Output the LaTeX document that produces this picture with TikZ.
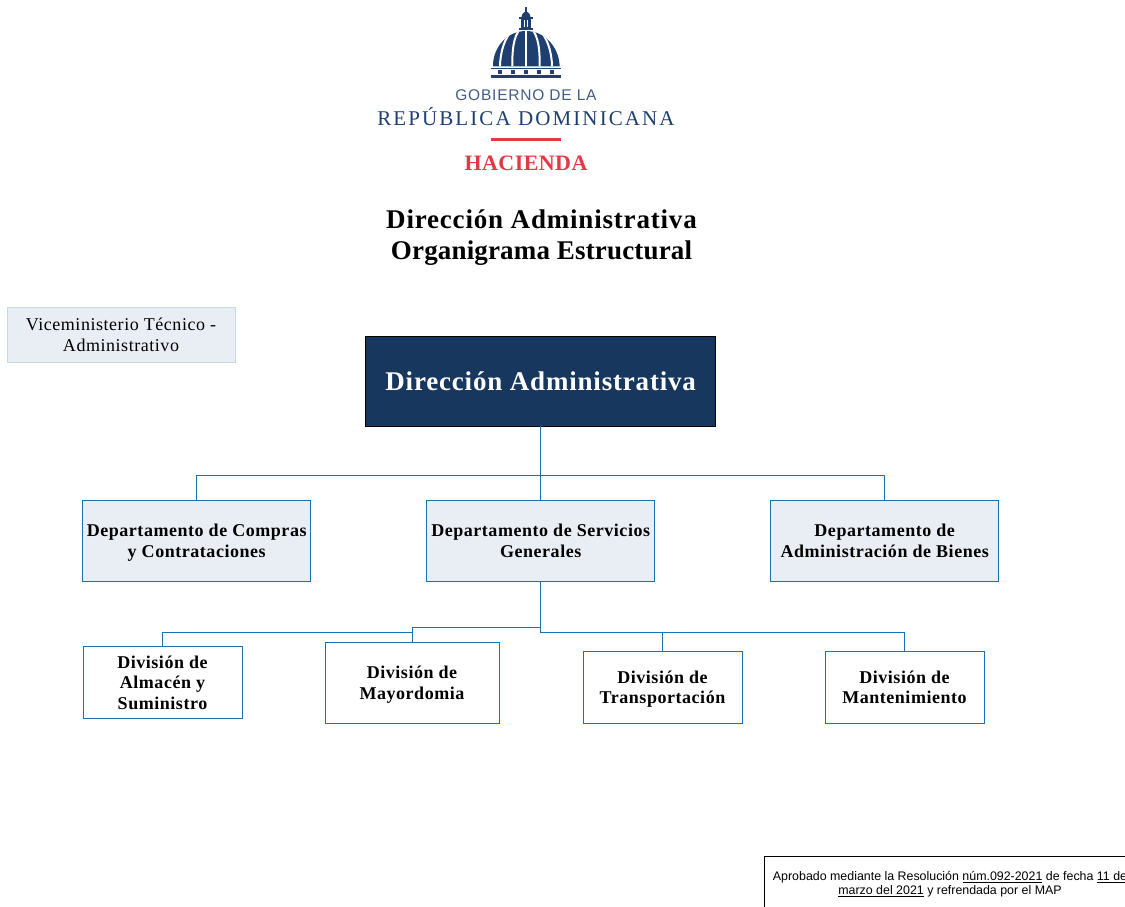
\documentclass[tikz,border=0pt]{standalone}
\usepackage{fontspec}
\setmainfont{Liberation Serif}[LetterSpace=3]
\setsansfont{Liberation Sans}
\newfontfamily\logoserif{Liberation Serif}[LetterSpace=10]
\newfontfamily\logosans{Liberation Sans}[LetterSpace=5]
\newfontfamily\hacfont{Liberation Serif}[LetterSpace=2]
\newfontfamily\tightfont{Liberation Serif}[LetterSpace=0.6]
\definecolor{navy}{HTML}{17375E}
\definecolor{pale}{HTML}{E9EEF5}
\definecolor{lnk}{HTML}{1672B4}
\definecolor{logoblue}{HTML}{1F3F70}
\definecolor{logored}{HTML}{E03A45}
\newcommand\sst{\rule[-.3em]{0pt}{1em}}
\newcommand\ssa{\rule[-.3em]{0pt}{1.33em}}
\tikzset{
  x=1pt,y=-1pt,
  boxbase/.style={inner sep=0pt,outer sep=0pt,align=center,text=black},
  vicebox/.style={boxbase,draw=black!12!lnk!25!white,fill=pale,line width=0.8pt,minimum width=228pt,minimum height=55pt,font=\fontsize{18}{20.5}\selectfont},
  mainbox/.style={boxbase,draw=black,fill=navy,text=white,line width=0.9pt,minimum width=350pt,minimum height=90pt,font=\fontsize{27}{31}\selectfont\bfseries},
  deptbox/.style={boxbase,draw=lnk,fill=pale,line width=0.9pt,minimum width=228pt,minimum height=81pt,font=\fontsize{18}{20.5}\selectfont\bfseries},
  divbox/.style={boxbase,draw=lnk,fill=white,line width=0.9pt,font=\fontsize{18}{20.5}\selectfont\bfseries},
  lnkline/.style={draw=lnk,line width=0.9pt},
  titletext/.style={boxbase,font=\fontsize{27}{31}\selectfont\bfseries},
  notebox/.style={inner sep=0pt,outer sep=0pt,draw=black,line width=0.9pt,fill=white},
  notetext/.style={inner sep=0pt,outer sep=0pt,align=center,font=\sffamily\fontsize{12.4}{14}\selectfont},
  rib/.style={draw=white,line width=2pt},
}
\begin{document}
\begin{tikzpicture}
\useasboundingbox (0,0) rectangle (1125,907);
\clip (0,0) rectangle (1125,907);
% logo dome
\begin{scope}
  \clip (493,66.5) -- (493,64) .. controls (494,46) and (508,31) .. (526,31) .. controls (544,31) and (558,46) .. (559.5,64) -- (559.5,66.5) -- cycle;
  \fill[logoblue] (490,28) rectangle (563,67);
  \draw[rib] (526,28) -- (526,67);
  \draw[rib] (521,28) .. controls (513,36) and (512,52) .. (512.5,67);
  \draw[rib] (531,28) .. controls (539,36) and (540,52) .. (539.5,67);
  \draw[rib] (514,29) .. controls (505,36) and (500,52) .. (500,67);
  \draw[rib] (538,29) .. controls (547,36) and (552,52) .. (552,67);
\end{scope}
\fill[logoblue] (521.5,17.5) .. controls (521.5,14) and (524,12) .. (526,11) .. controls (528,12) and (530.5,14) .. (530.5,17.5) -- cycle;
\fill[logoblue] (525.2,7.5) rectangle (526.8,12);
\fill[logoblue] (519,17) rectangle (533,19.5);
\fill[logoblue] (521,19.5) rectangle (531,28);
\fill[white] (523.6,20.5) rectangle (524.6,27.5);
\fill[white] (527.4,20.5) rectangle (528.4,27.5);
\fill[logoblue] (519,28) rectangle (533,30.3);
\fill[logoblue] (491,68) rectangle (561,69.3);
\foreach \dx in {500,513,526,539,552} \fill[logoblue] (\dx-1.8,70.5) rectangle (\dx+1.8,74.5);
\fill[logoblue] (491,75.5) rectangle (561,78.5);
\node[boxbase,text=logoblue!85!white,font=\logosans\fontsize{15.5}{18}\selectfont] (gob) at (526,95) {GOBIERNO DE LA};
\node[boxbase,text=logoblue,font=\logoserif\fontsize{21}{24}\selectfont] (rep) at (526,117) {REPÚBLICA DOMINICANA};
\fill[logored] (491,137.5) rectangle (560.5,141);
\node[boxbase,text=logored,font=\hacfont\fontsize{22}{24}\selectfont\bfseries] (hac) at (526,163.5) {HACIENDA};
% title
\node[titletext] (title) at (541.5,234) {\ssa Dirección Administrativa\\\sst{\tightfont\bfseries Organigrama Estructural}};
% boxes
\node[vicebox] (vice) at (121,334.5) {\ssa Viceministerio Técnico -\\\sst Administrativo};
\node[mainbox] (main) at (540.7,381) {\ssa Dirección Administrativa};
\node[deptbox] (d1) at (196.7,540.5) {\ssa Departamento de Compras\\\sst y Contrataciones};
\node[deptbox] (d2) at (540.7,540.5) {\ssa Departamento de Servicios\\\sst Generales};
\node[deptbox] (d3) at (884.7,540.5) {\ssa Departamento de\\\sst Administración de Bienes};
\node[divbox,minimum width=159pt,minimum height=72pt] (v1) at (162.5,682) {\ssa División de\\Almacén y\\\sst Suministro};
\node[divbox,minimum width=174pt,minimum height=81pt] (v2) at (412,682.5) {\ssa División de\\\sst Mayordomia};
\node[divbox,minimum width=159pt,minimum height=72pt] (v3) at (662.5,687) {\ssa División de\\\sst Transportación};
\node[divbox,minimum width=159pt,minimum height=72pt] (v4) at (904.5,687) {\ssa División de\\\sst Mantenimiento};
% connectors
\draw[lnkline] (main.south) -- (d2.north);
\draw[lnkline] (main.south) -- ++(0,49) -| (d1.north);
\draw[lnkline] (main.south) -- ++(0,49) -| (d3.north);
\draw[lnkline] (d2.south) -- ++(0,46) -| (v2.north);
\draw[lnkline] (v2.north) ++(0,-10) -| (v1.north);
\draw[lnkline] (d2.south) -- ++(0,51) -| (v4.north);
\draw[lnkline] (d2.south) ++(0,51) -| (v3.north);
% note
\node[notebox,minimum width=400pt,minimum height=80pt,anchor=north west] (note) at (764.5,856.5) {};
\node[notetext,anchor=north] (notet) at (950,871.5) {Aprobado mediante la Resolución \underline{núm.092-2021} de fecha \underline{11 de}\\\underline{marzo del 2021} y refrendada por el MAP};
\end{tikzpicture}
\end{document}
